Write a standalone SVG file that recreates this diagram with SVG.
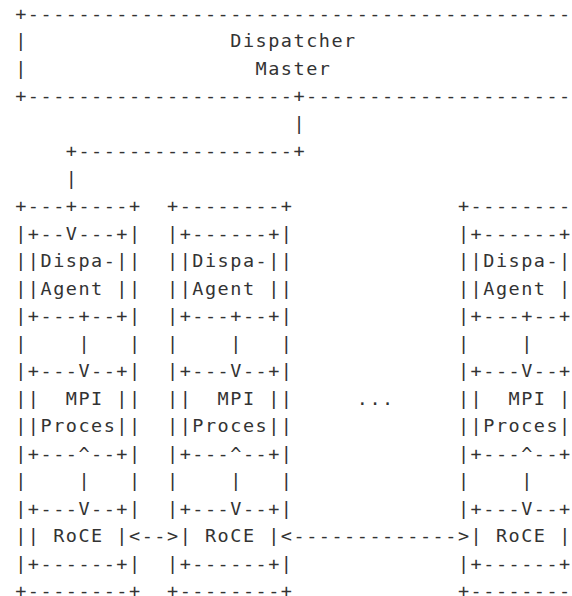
<svg xmlns="http://www.w3.org/2000/svg" width="572" height="596" viewBox="0 0 572 596" xml:space="preserve">
  <!-- Character grid: column c starts at x = 15.2 + 12.65*c, row r baseline at y = 19.8 + 27.5*r -->
  <style>
    text {
      font-family: "DejaVu Sans Mono", "Liberation Mono", monospace;
      font-size: 18.5px;
      letter-spacing: 1.51px;
      fill: #333333;
      white-space: pre;
    }
  </style>
  <rect width="572" height="596" fill="#ffffff"/>

  <!-- Dispatcher Master box -->
  <g id="dispatcher-master">
    <text x="15.2" y="19.8">+-------------------------------------------</text>
    <text x="15.2" y="47.3">|</text>
    <text x="230.25" y="47.3">Dispatcher</text>
    <text x="15.2" y="74.8">|</text>
    <text x="255.55" y="74.8">Master</text>
    <text x="15.2" y="102.3">+---------------------+---------------------</text>
  </g>

  <!-- Connectors between nodes -->
  <g id="connectors">
    <text x="293.5" y="129.8">|</text>
    <text x="65.8" y="157.3">+-----------------+</text>
    <text x="65.8" y="184.8">|</text>
    <text x="129.05" y="542.3">&lt;--&gt;</text>
    <text x="280.85" y="542.3">&lt;-------------&gt;</text>
  </g>

  <!-- Node 1 -->
  <g id="node-1">
    <text x="15.2" y="212.3">+---+----+</text>
    <text x="15.2" y="239.8">|+--V---+|</text>
    <text x="15.2" y="267.3">||Dispa-||</text>
    <text x="15.2" y="294.8">||Agent ||</text>
    <text x="15.2" y="322.3">|+---+--+|</text>
    <text x="15.2" y="349.8">|    |   |</text>
    <text x="15.2" y="377.3">|+---V--+|</text>
    <text x="15.2" y="404.8">||  MPI ||</text>
    <text x="15.2" y="432.3">||Proces||</text>
    <text x="15.2" y="459.8">|+---^--+|</text>
    <text x="15.2" y="487.3">|    |   |</text>
    <text x="15.2" y="514.8">|+---V--+|</text>
    <text x="15.2" y="542.3">|| RoCE |</text>
    <text x="15.2" y="569.8">|+------+|</text>
    <text x="15.2" y="597.3">+--------+</text>
  </g>

  <!-- Node 2 -->
  <g id="node-2">
    <text x="167" y="212.3">+--------+</text>
    <text x="167" y="239.8">|+------+|</text>
    <text x="167" y="267.3">||Dispa-||</text>
    <text x="167" y="294.8">||Agent ||</text>
    <text x="167" y="322.3">|+---+--+|</text>
    <text x="167" y="349.8">|    |   |</text>
    <text x="167" y="377.3">|+---V--+|</text>
    <text x="167" y="404.8">||  MPI ||</text>
    <text x="167" y="432.3">||Proces||</text>
    <text x="167" y="459.8">|+---^--+|</text>
    <text x="167" y="487.3">|    |   |</text>
    <text x="167" y="514.8">|+---V--+|</text>
    <text x="179.65" y="542.3">| RoCE |</text>
    <text x="167" y="569.8">|+------+|</text>
    <text x="167" y="597.3">+--------+</text>
  </g>

  <!-- Gap marker between node 2 and node N -->
  <g id="ellipsis">
    <text x="356.75" y="404.8">...</text>
  </g>

  <!-- Node N -->
  <g id="node-n">
    <text x="457.95" y="212.3">+--------</text>
    <text x="457.95" y="239.8">|+------+</text>
    <text x="457.95" y="267.3">||Dispa-|</text>
    <text x="457.95" y="294.8">||Agent |</text>
    <text x="457.95" y="322.3">|+---+--+</text>
    <text x="457.95" y="349.8">|    |   </text>
    <text x="457.95" y="377.3">|+---V--+</text>
    <text x="457.95" y="404.8">||  MPI |</text>
    <text x="457.95" y="432.3">||Proces|</text>
    <text x="457.95" y="459.8">|+---^--+</text>
    <text x="457.95" y="487.3">|    |   </text>
    <text x="457.95" y="514.8">|+---V--+</text>
    <text x="470.6" y="542.3">| RoCE |</text>
    <text x="457.95" y="569.8">|+------+</text>
    <text x="457.95" y="597.3">+--------</text>
  </g>
</svg>
